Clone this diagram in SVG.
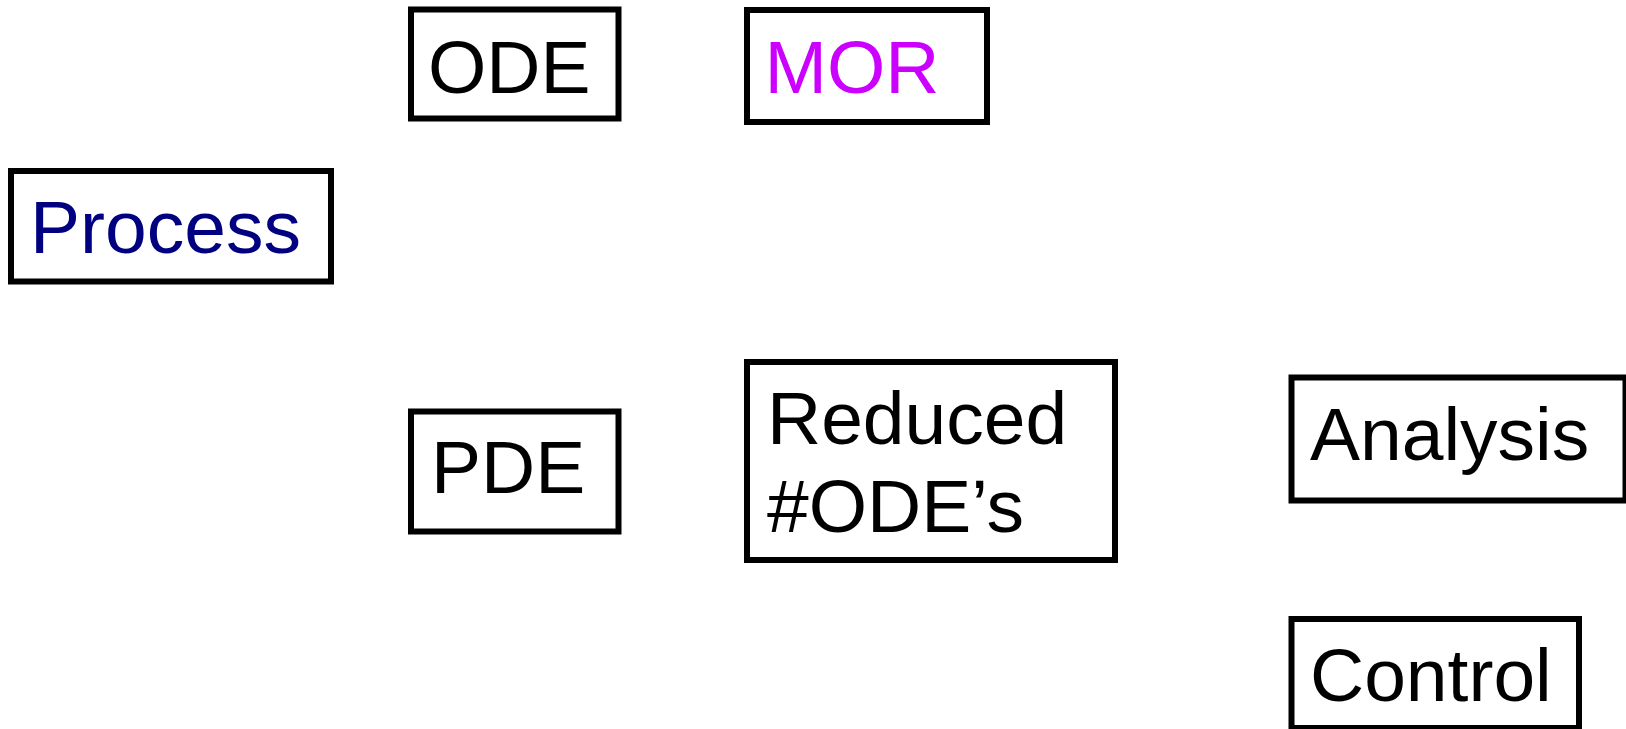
<svg xmlns="http://www.w3.org/2000/svg" width="1626" height="729" viewBox="0 0 1626 729">
  <style>
    .box { fill: #ffffff; stroke: #000000; stroke-width: 6; }
    .label { font-family: "Liberation Sans", Arial, sans-serif; font-size: 75px; fill: #000000; }
    .navy { fill: #000080; }
    .magenta { fill: #cc00ff; }
  </style>
  <rect x="0" y="0" width="1626" height="729" fill="#ffffff"/>

  <g id="process">
    <rect class="box" x="11" y="171" width="320" height="110.5"/>
    <text class="label navy" x="30" y="253">Process</text>
  </g>

  <g id="ode">
    <rect class="box" x="411" y="9.5" width="207.5" height="109"/>
    <text class="label" x="428" y="92.5">ODE</text>
  </g>

  <g id="mor">
    <rect class="box" x="747" y="10" width="240" height="112"/>
    <text class="label magenta" x="764.5" y="92.5">MOR</text>
  </g>

  <g id="pde">
    <rect class="box" x="411" y="411.5" width="207.5" height="120"/>
    <text class="label" x="431" y="493">PDE</text>
  </g>

  <g id="reduced">
    <rect class="box" x="747" y="362" width="368" height="198"/>
    <text class="label" x="767" y="443.5">Reduced</text>
    <text class="label" x="767" y="532">#ODE’s</text>
  </g>

  <g id="analysis">
    <rect class="box" x="1291.5" y="377.5" width="334" height="123"/>
    <text class="label" x="1310" y="460">Analysis</text>
  </g>

  <g id="control">
    <rect class="box" x="1291.5" y="619" width="287.5" height="109"/>
    <text class="label" x="1310" y="701">Control</text>
  </g>
</svg>
